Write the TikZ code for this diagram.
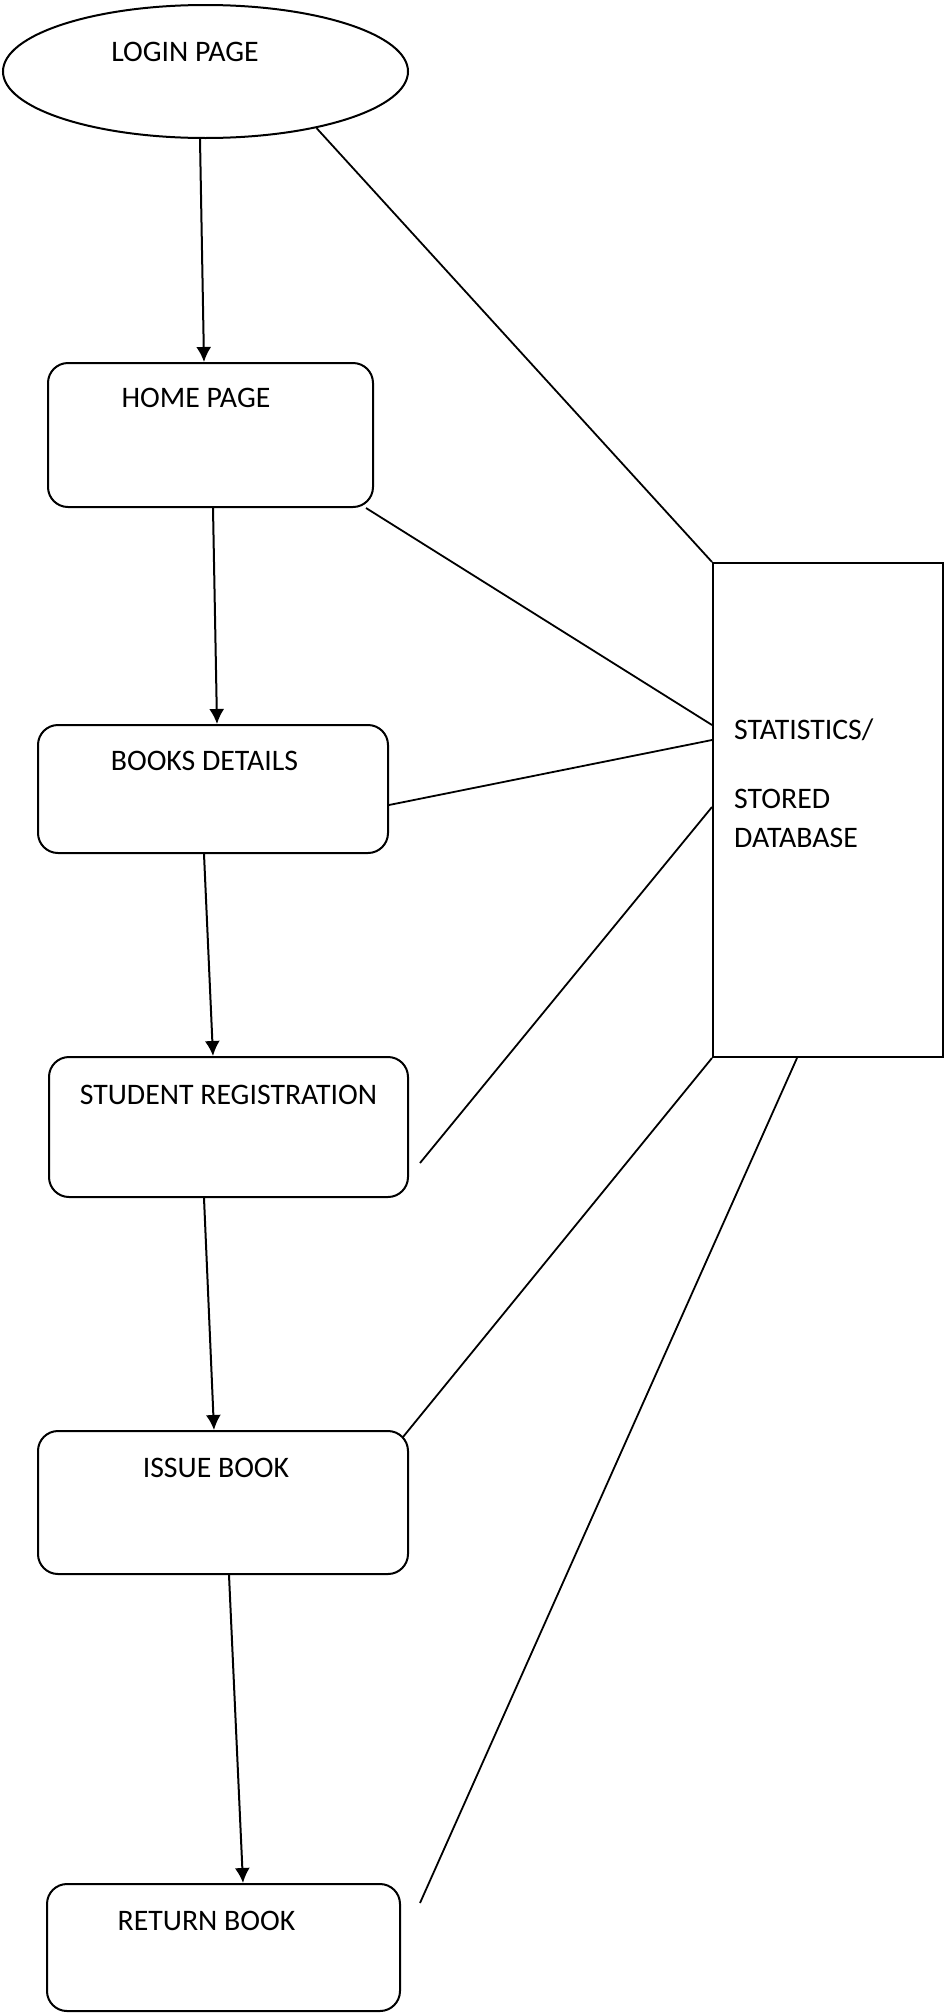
\documentclass[tikz,border=0pt]{standalone}
\usepackage{fontspec}
\setmainfont{Carlito}
\usepackage{tikz}
\usetikzlibrary{arrows.meta,shapes.geometric}
\tikzset{
	pagebox/.style={draw, line width=2pt, rounded corners=20pt, inner sep=0pt},
	pagetext/.style={anchor=base, inner sep=0pt, font=\fontsize{29.8}{39}\selectfont},
	flow/.style={line width=2pt, -{Latex[length=15pt,width=15pt]}},
	link/.style={line width=1.8pt}
}

\begin{document}
\begin{tikzpicture}[x=1pt,y=-1pt]
			%%%%% START %%%%%
			\useasboundingbox (0,0) rectangle (944,2013);
			
			\node[draw, ellipse, line width=2pt, inner sep=0pt, minimum width=405pt, minimum height=133pt] (login) at (205.5,71.5) {};
			\node[pagetext] (logintxt) at (185,61) {LOGIN PAGE};
			
			\node[pagebox, minimum width=325pt, minimum height=144pt] (home) at (210.5,435) {};
			\node[pagetext] (hometxt) at (196,407) {HOME PAGE};
			
			\node[pagebox, minimum width=350pt, minimum height=128pt] (books) at (213,789) {};
			\node[pagetext] (bookstxt) at (204.5,770) {BOOKS DETAILS};
			
			\node[pagebox, minimum width=359pt, minimum height=140pt] (student) at (228.5,1127) {};
			\node[pagetext] (studenttxt) at (228.5,1104) {STUDENT REGISTRATION};
			
			\node[pagebox, minimum width=370pt, minimum height=143pt] (issue) at (223,1502.5) {};
			\node[pagetext] (issuetxt) at (216,1477) {ISSUE BOOK};
			
			\node[pagebox, minimum width=353pt, minimum height=127pt] (return) at (223.5,1947.5) {};
			\node[pagetext] (returntxt) at (206.5,1930) {RETURN BOOK};
			
			\node[draw, line width=2pt, inner sep=0pt, minimum width=230pt, minimum height=494pt] (stats) at (828,810) {};
			\node[pagetext, anchor=base west, align=left] (statstxt) at (734,847) {STATISTICS/\\[30pt]STORED\\DATABASE};
			
			% flow of pages
			\draw[flow] ([xshift=-5.5pt]login.south) -- ([xshift=-6.5pt]home.north);
			\draw[flow] ([xshift=2.5pt]home.south) -- ([xshift=4pt]books.north);
			\draw[flow] ([xshift=-9pt]books.south) -- ([xshift=-15.5pt]student.north);
			\draw[flow] ([xshift=-24.5pt]student.south) -- ([xshift=-9pt]issue.north);
			\draw[flow] ([xshift=6pt]issue.south) -- ([xshift=19.5pt]return.north);
			
			% links to the database
			\coordinate (regfree) at (420,1163);
			\coordinate (retfree) at (420,1903);
			\draw[link] (login.-27) -- (stats.north west);
			\draw[link] ([xshift=-8pt]home.south east) -- ([yshift=85pt]stats.west);
			\draw[link] ([yshift=-16pt]books.east) -- ([yshift=70pt]stats.west);
			\draw[link] (regfree) -- ([yshift=3pt]stats.west);
			\draw[link] ([xshift=-6pt,yshift=-7pt]issue.north east) -- (stats.south west);
			\draw[link] (retfree) -- ([xshift=-31pt]stats.south);
			%%%%% END %%%%%
\end{tikzpicture}
\end{document}
